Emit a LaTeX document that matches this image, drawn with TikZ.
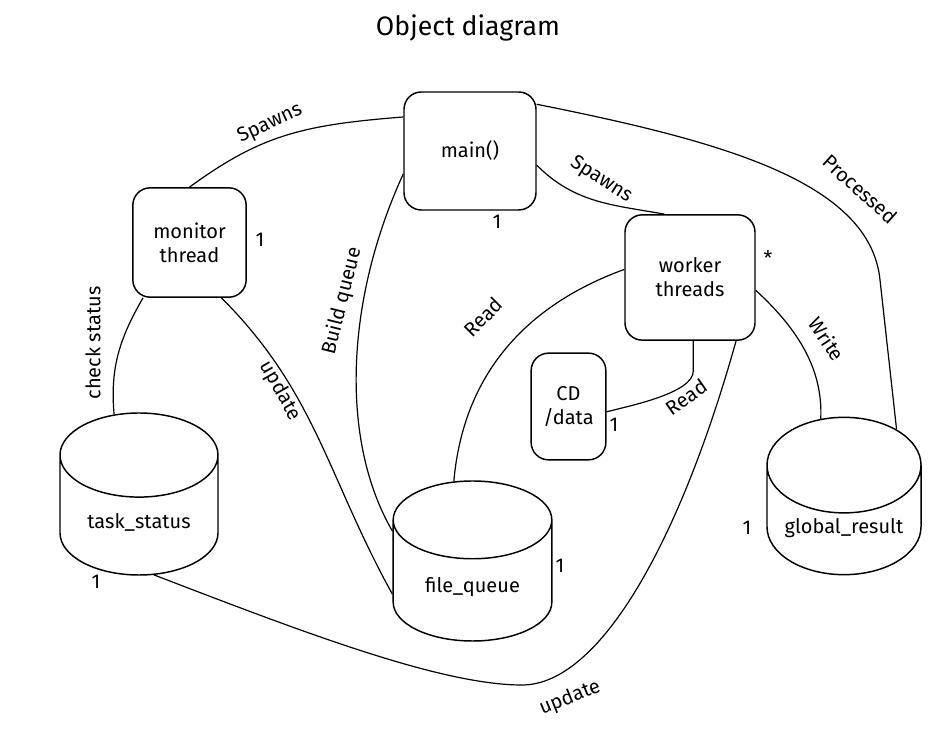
\documentclass[tikz,border=0pt]{standalone}
\usepackage{fontspec}
\setmainfont{Fira Sans}
\usetikzlibrary{shapes.geometric}

\begin{document}
\begin{tikzpicture}[x=0.75pt, y=0.75pt,
  every node/.style={font=\fontsize{15}{18}\selectfont},
  obj/.style={rectangle, rounded corners=13pt, draw=black, line width=1.1pt, align=center},
  store/.style={cylinder, shape border rotate=90, aspect=0.75, draw=black, line width=1.1pt, anchor=shape center},
  lbl/.style={inner sep=1pt},
  link/.style={draw=black, line width=0.9pt}]
			\useasboundingbox (0,0) rectangle (937,741);
			\node[font=\fontsize{20}{24}\selectfont] (title) at (468,713){Object diagram};
			
			\node[obj, minimum width=99pt, minimum height=88.5pt] (main) at (470,590){main()};
			\node[obj, minimum width=85pt, minimum height=82pt] (monitor) at (189.5,498.5){monitor\\thread};
			\node[obj, minimum width=97.5pt, minimum height=94pt] (worker) at (690,463.5){worker\\threads};
			\node[obj, minimum width=56pt, minimum height=80pt] (cd) at (568.5,334.5){CD\\/data};
			\node[store, minimum width=118.5pt, minimum height=121.5pt] (taskstatus) at (139,247){task\_status};
			\node[store, minimum width=119pt, minimum height=120pt] (filequeue) at (472.5,180){file\_queue};
			\node[store, minimum width=115.5pt, minimum height=118pt] (globalres) at (844,245){global\_result};
			
			\node (m1) at (497,519){1};
			\node (m2) at (260,501){1};
			\node (m3) at (768,483){*};
			\node (m4) at (614,316){1};
			\node (m5) at (96,159){1};
			\node (m6) at (560,175){1};
			\node (m7) at (747,213){1};
			
			\draw[link] (main.153) .. controls (300,616) and (260,605) .. (monitor.north);
			\draw[link] (main.-12) to[out=-45, in=170] (worker.112);
			\draw[link] (main.35) .. controls (720,600) and (870,560) .. (880,461) -- (globalres.62);
			\draw[link] (main.199) .. controls (345,440) and (340,300) .. (filequeue.145);
			\draw[link] (monitor.-60) to[out=-45, in=119] (filequeue.185);
			\draw[link] (monitor.230) to[out=240, in=95] (taskstatus.103);
			\draw[link] (taskstatus.-74) .. controls (300,110) and (440,56) .. (522,56) .. controls (600,56) and (680,200) .. (worker.-54);
			\draw[link] (worker.173) to[out=200, in=85] (filequeue.100);
			\draw[link] (worker.-87) -- ++(0,-30) to[out=-90, in=15, looseness=0.6] (cd.-8);
			\draw[link] (worker.-11) .. controls (800,410) and (823,370) .. (globalres.102);
			
			\node[lbl, rotate=25] (spawns1) at (270,617){Spawns};
			\node[lbl, rotate=-32] (spawns2) at (601,561){Spawns};
			\node[lbl, rotate=-42] (processed) at (860,552){Processed};
			\node[lbl, rotate=76] (buildq) at (342,440){Build queue};
			\node[lbl, rotate=-60] (update1) at (280,350){update};
			\node[lbl, rotate=90] (check) at (93,398){check status};
			\node[lbl, rotate=22] (update2) at (570,43){update};
			\node[lbl, rotate=45] (read1) at (483,424){Read};
			\node[lbl, rotate=35] (read2) at (686,344){Read};
			\node[lbl, rotate=-56] (write) at (827,402){Write};
\end{tikzpicture}
\end{document}
